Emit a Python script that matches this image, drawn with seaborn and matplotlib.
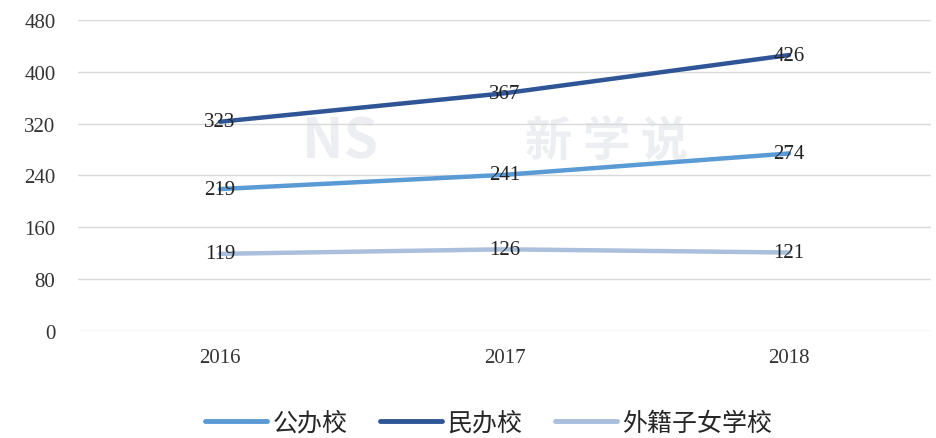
import pandas as pd
import matplotlib
matplotlib.use("Agg")
import matplotlib.pyplot as plt
import seaborn as sns

# -----------------------------------
# DATA
# -----------------------------------

years = ["2016", "2017", "2018"]
series_names = ["公办校", "民办校", "外籍子女学校"]
public_school = [219, 241, 274]
private_school = [323, 367, 426]
intl_school = [119, 126, 121]

colors = ["#5b9bd5", "#2f5597", "#a9bfdc"]

df = pd.DataFrame({
    "year": years * 3,
    "value": public_school + private_school + intl_school,
    "series": [s for s in series_names for _ in years],
})

# -----------------------------------
# PLOT
# -----------------------------------

sns.set_style("white")
plt.rcParams["font.family"] = ["Noto Sans CJK SC", "DejaVu Sans"]

fig = plt.figure(figsize=(9.36, 4.39), dpi=100)
ax = fig.add_axes([0.083, 0.244, 0.912, 0.708])

# faint watermark
ax.text(0.307, 0.61, "NS", transform=ax.transAxes, ha="center", va="center",
        fontsize=40, fontweight="bold", color="#eceef2", zorder=0)
ax.text(0.62, 0.61, "新 学 说", transform=ax.transAxes, ha="center", va="center",
        fontsize=34, fontweight="bold", color="#eceef2", zorder=0)

sns.lineplot(data=df, x="year", y="value", hue="series", palette=colors,
             linewidth=3.2, sort=False, ax=ax, legend=False)

# data labels centred on points
for name, vals in zip(series_names, [public_school, private_school, intl_school]):
    for i, v in enumerate(vals):
        ax.text(i, v, str(v), ha="center", va="center", fontsize=15,
                family="Liberation Serif", color="#222222")

ax.set_ylim(0, 480)
ax.set_xlim(-0.5, 2.5)
ax.set_yticks(range(0, 481, 80))
ax.yaxis.grid(True, color="#d9d9d9", linewidth=1)
ax.set_axisbelow(True)
ax.set_xlabel("")
ax.set_ylabel("")
for s in ax.spines.values():
    s.set_visible(False)
ax.tick_params(axis="both", length=0, labelsize=15, colors="#333333")
ax.tick_params(axis="y", pad=16)
ax.tick_params(axis="x", pad=12)
for lab in ax.get_xticklabels() + ax.get_yticklabels():
    lab.set_family("Liberation Serif")

# legend
handles = [plt.Line2D([0], [0], color=c, linewidth=3.5) for c in colors]
fig.legend(handles, series_names, loc="center", bbox_to_anchor=(0.522, 0.035),
           ncol=3, frameon=False, fontsize=18, handlelength=2.5,
           handletextpad=0.2, columnspacing=1.3)

fig.savefig("out.png", dpi=100)
